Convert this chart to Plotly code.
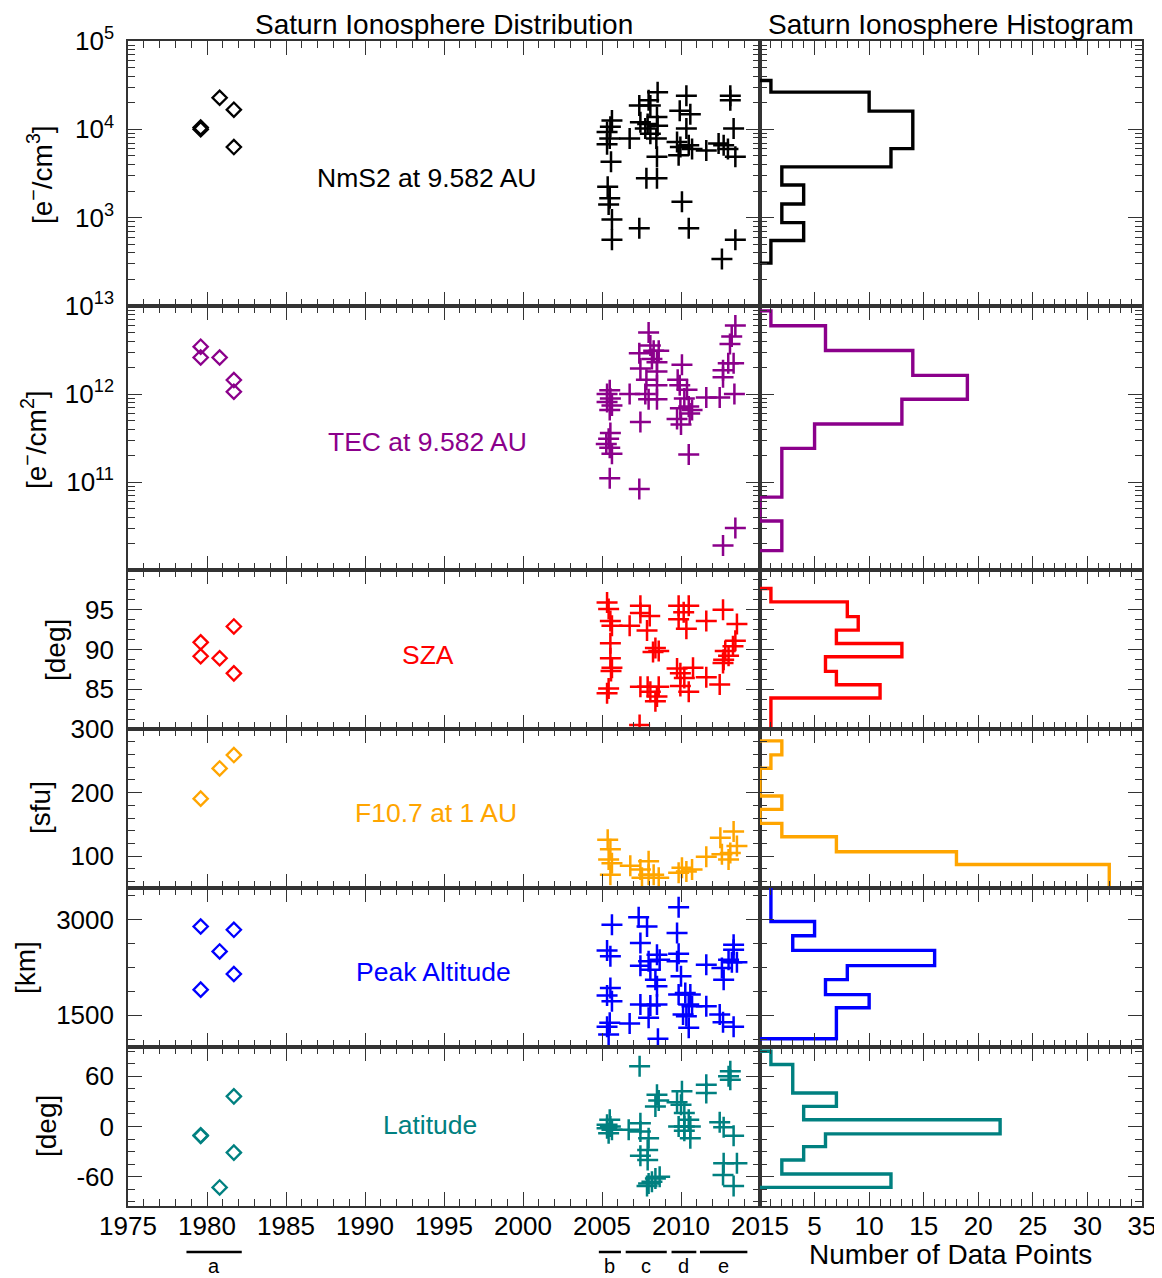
import plotly.graph_objects as go
from plotly.subplots import make_subplots

# ---------------- data ----------------
# Voyager / Pioneer era (diamonds)
early_nm_year = [1979.6, 1979.6, 1980.8, 1981.7, 1981.7]
early_nm_val = [1.05e4, 1.0e4, 2.28e4, 1.67e4, 6.3e3]
early_tec_year = [1979.6, 1979.6, 1980.8, 1981.7, 1981.7]
early_tec_val = [3.45e12, 2.6e12, 2.6e12, 1.44e12, 1.06e12]
early_sza_year = [1979.6, 1979.6, 1980.8, 1981.7, 1981.7]
early_sza_val = [90.9, 89.15, 88.9, 92.9, 87.0]
early_f107_year = [1979.6, 1980.8, 1981.7]
early_f107_val = [190.5, 238, 259]
early_alt_year = [1979.6, 1981.7, 1980.8, 1981.7, 1979.6]
early_alt_val = [2895, 2843, 2503, 2148, 1902]
early_lat_year = [1981.7, 1979.6, 1979.6, 1981.7, 1980.8]
early_lat_val = [36, -11.2, -10.5, -31.2, -72.8]

# Cassini era (crosses)
nm_year = [2005.63, 2005.53, 2005.32, 2005.49, 2005.32, 2005.57, 2005.36, 2005.49, 2005.42, 2005.63,
           2005.63, 2006.75, 2007.36, 2007.36, 2007.43, 2007.95, 2008.06, 2007.89, 2007.74, 2008.06,
           2008.52, 2008.48, 2008.52, 2008.44, 2008.48, 2007.81, 2008.48, 2010.34, 2009.92, 2010.59,
           2010.34, 2009.75, 2009.96, 2009.85, 2010.49, 2010.70, 2011.60, 2010.06, 2010.49, 2012.38,
           2012.70, 2013.12, 2013.12, 2013.33, 2012.97, 2013.44, 2012.59, 2013.44]
nm_val = [12600, 10700, 9300, 7900, 6800, 4300, 2240, 1660, 1410, 955,
          562, 7900, 18600, 760, 12000, 21400, 18600, 11500, 10200, 8900,
          26300, 13800, 11000, 7900, 4900, 2800, 2800, 24000, 16200, 14800,
          10200, 7200, 6300, 5100, 6600, 6000, 5750, 1510, 760, 6900,
          6600, 24000, 21400, 10200, 6000, 4900, 340, 562]

tec_year = [2005.49, 2005.32, 2005.53, 2005.32, 2005.63, 2005.49, 2005.53, 2005.42, 2005.27, 2005.49,
            2005.63, 2005.49, 2006.75, 2007.36, 2007.43, 2007.81, 2007.74, 2007.95, 2007.43, 2007.36,
            2007.95, 2008.06, 2008.27, 2008.16, 2008.59, 2008.48, 2008.48, 2008.48, 2008.48, 2010.06,
            2009.79, 2009.92, 2010.38, 2010.21, 2009.96, 2010.49, 2010.70, 2010.55, 2009.75, 2010.00,
            2010.49, 2011.60, 2012.45, 2012.66, 2012.66, 2013.33, 2012.99, 2013.10, 2013.21, 2013.44,
            2013.38, 2012.66, 2013.44]
tec_val = [1.10e12, 1.00e12, 8.9e11, 8.1e11, 7.4e11, 6.6e11, 3.6e11, 3.1e11, 2.7e11, 2.45e11,
           2.1e11, 1.1e11, 1.0e12, 2.9e12, 1.95e12, 1.45e12, 1.0e12, 8.7e11, 4.8e11, 8.3e10,
           5.0e12, 3.55e12, 3.1e12, 2.5e12, 3.1e12, 2.3e12, 1.8e12, 1.26e12, 8.7e11, 2.15e12,
           1.45e12, 1.26e12, 1.12e12, 8.9e11, 6.9e11, 7.2e11, 6.6e11, 6.0e11, 5.2e11, 4.5e11,
           2.05e11, 9.1e11, 9.1e11, 1.55e12, 1.86e12, 2.24e12, 2.24e12, 3.7e12, 4.5e12, 6.0e12,
           1.0e12, 1.9e10, 3.0e10]

sza_year = [2005.32, 2005.42, 2005.53, 2005.63, 2005.53, 2005.53, 2005.63, 2005.57, 2005.42, 2005.32,
            2006.75, 2007.43, 2007.43, 2008.02, 2007.85, 2008.38, 2008.23, 2008.59, 2007.43, 2007.89,
            2008.06, 2008.59, 2008.48, 2008.38, 2007.38, 2009.85, 2010.49, 2010.17, 2009.85, 2010.34,
            2009.75, 2009.96, 2010.76, 2010.21, 2009.96, 2010.49, 2011.60, 2011.60, 2012.66, 2012.45,
            2013.54, 2013.44, 2013.29, 2012.80, 2013.01, 2012.70, 2012.66]
sza_val = [95.9, 95.1, 93.6, 93.0, 90.8, 88.9, 87.7, 87.3, 85.1, 84.5,
           93.0, 95.5, 94.6, 94.2, 92.4, 90.2, 89.7, 89.8, 85.3, 85.3,
           84.7, 85.3, 84.1, 83.5, 80.5, 95.5, 95.5, 94.7, 93.8, 92.6,
           87.6, 87.0, 87.7, 86.4, 85.4, 84.7, 93.6, 86.5, 95.0, 85.6,
           93.2, 91.1, 90.4, 89.8, 89.2, 88.7, 88.3]

f107_year = [2005.36, 2005.53, 2005.42, 2005.63, 2005.53, 2006.79, 2007.43, 2007.95, 2007.53, 2007.95,
             2008.27, 2008.59, 2009.85, 2010.06, 2010.34, 2010.70, 2011.60, 2012.49, 2013.33, 2013.54,
             2012.59, 2013.12, 2013.01]
f107_val = [126, 111, 95, 89, 71, 85, 79, 92, 66, 71,
            71, 66, 74, 82, 76, 79, 99, 129, 139, 116,
            103, 105, 95]

alt_year = [2005.63, 2005.32, 2005.53, 2005.53, 2005.32, 2005.63, 2005.49, 2005.32, 2005.42, 2006.75,
            2007.32, 2007.85, 2007.43, 2007.43, 2007.95, 2008.06, 2008.48, 2008.65, 2008.38, 2008.48,
            2007.43, 2008.06, 2008.48, 2007.95, 2008.54, 2009.85, 2009.75, 2009.85, 2009.75, 2010.00,
            2009.85, 2010.27, 2010.59, 2010.49, 2010.70, 2010.13, 2010.34, 2010.49, 2011.60, 2011.60,
            2012.45, 2012.66, 2013.33, 2012.59, 2012.70, 2013.01, 2013.22, 2013.54, 2013.33, 2013.33]
alt_val = [2922, 2519, 2425, 1929, 1808, 1720, 1380, 1317, 1197, 1370,
           3042, 2895, 2634, 2279, 2347, 2216, 2451, 2373, 2059, 1955,
           1667, 1652, 1667, 1458, 1129, 3199, 2791, 2467, 2347, 2112,
           1824, 1850, 1824, 1667, 1641, 1511, 1484, 1302, 2294, 1641,
           1511, 1390, 1317, 2242, 2059, 2373, 2331, 2331, 2530, 2608]

lat_year = [2007.38, 2005.49, 2005.32, 2005.63, 2005.42, 2005.32, 2005.53, 2006.69, 2007.43, 2007.43,
            2007.95, 2007.89, 2007.43, 2007.89, 2007.95, 2008.16, 2008.38, 2008.65, 2007.85, 2008.48,
            2008.59, 2008.38, 2010.06, 2009.75, 2010.00, 2010.21, 2010.49, 2009.85, 2010.21, 2010.59,
            2010.21, 2010.59, 2011.60, 2011.60, 2012.45, 2012.70, 2013.33, 2013.12, 2013.01, 2013.12,
            2012.70, 2013.54, 2012.66, 2013.33]
lat_val = [72, 8, -2, -4, -8, 2, 0, -4, 4, -6,
           -14, -28, -35, -40, -68, -66, -62, -60, -71, 38,
           31, 24, 42, 29, 26, 16, 8, 0, 0, 0,
           -5, -14, 50, 40, 5, -1, -11, 66, 60, 56,
           -44, -44, -58, -71]

# Histograms (bin edges from top to bottom, counts per bin)
nm_hist_edges = [35650, 26360, 16070, 9770, 6053, 3758, 2339, 1426, 879, 551, 306]
nm_hist_counts = [1, 10, 14, 14, 12, 2, 4, 2, 4, 1]
tec_hist_edges = [8.8e12, 5.96e12, 3.12e12, 1.63e12, 8.71e11, 4.57e11, 2.41e11, 1.27e11, 6.73e10, 3.61e10, 1.66e10]
tec_hist_counts = [1, 6, 14, 19, 13, 5, 2, 2, 0, 2]
sza_hist_edges = [97.68, 95.99, 94.14, 92.44, 90.76, 89.08, 87.25, 85.57, 83.89, 78.8]
sza_hist_counts = [1, 8, 9, 7, 13, 6, 7, 11, 1]
f107_hist_edges = [281.4, 259.3, 238.3, 194.6, 173.7, 151.6, 130.6, 106.9, 86.9, 45]
f107_hist_counts = [2, 1, 0, 2, 0, 2, 7, 18, 32]
alt_hist_edges = [3700, 2973, 2749, 2519, 2279, 2060, 1824, 1616, 1130]
alt_hist_counts = [1, 5, 3, 16, 8, 6, 10, 7]
lat_hist_edges = [90, 74, 57, 40, 24, 8, -8.8, -24, -40, -56.8, -72.7]
lat_hist_counts = [1, 3, 3, 7, 4, 22, 6, 4, 2, 12]

# Spacecraft era bars under the time axis
era_labels = ["a", "b", "c", "d", "e"]
era_start = [1978.7, 2004.8, 2006.5, 2009.4, 2011.2]
era_end = [1982.2, 2006.2, 2009.1, 2010.97, 2014.2]

year_ticks = [1975, 1980, 1985, 1990, 1995, 2000, 2005, 2010, 2015]
count_ticks = [0, 5, 10, 15, 20, 25, 30, 35]

# ---------------- figure ----------------
FONT = "Liberation Sans, Arial, Helvetica, sans-serif"
FS_TICK = 26
FS_ANN = 26.5
FS_TITLE = 28
FS_YT = 28
AXC = "#333333"

OFF = 8  # page body margin
W, H = 1162 - OFF, 1278 - OFF
# plot area in page pixels
PX0, PX1, PY0, PY1 = 128, 1142, 41, 1206
ML, MT = PX0 - OFF, PY0 - OFF
MR, MB = (W + OFF) - PX1, (H + OFF) - PY1
PW, PH = PX1 - PX0, PY1 - PY0

fig = make_subplots(rows=6, cols=2, row_heights=[265, 264, 159, 159, 159, 159],
                    column_widths=[632, 382], horizontal_spacing=0, vertical_spacing=0)


def sup(e):
    return "10<sup>%d</sup>" % e


def log_minor(lo, hi):
    v = []
    for e in range(lo, hi):
        for m in range(2, 10):
            v.append(m * 10 ** e)
    return v


panels = [
    dict(name="NmS2 at 9.582 AU", color="black", ey=early_nm_year, ev=early_nm_val, cy=nm_year, cv=nm_val,
         he=nm_hist_edges, hc=nm_hist_counts, ytitle="[e<sup>\u2212</sup>/cm<sup>3</sup>]",
         yax=dict(type="log", range=[2, 5], tickvals=[1e2, 1e3, 1e4, 1e5],
                  ticktext=["", sup(3), sup(4), sup(5)],
                  minor=dict(tickvals=log_minor(2, 5))),
         ann=(426, 178), tpos=(40, 175)),
    dict(name="TEC at 9.582 AU", color="#8B008B", ey=early_tec_year, ev=early_tec_val, cy=tec_year, cv=tec_val,
         he=tec_hist_edges, hc=tec_hist_counts, ytitle="[e<sup>\u2212</sup>/cm<sup>2</sup>]",
         yax=dict(type="log", range=[10, 13], tickvals=[1e10, 1e11, 1e12, 1e13],
                  ticktext=["", sup(11), sup(12), sup(13)],
                  minor=dict(tickvals=log_minor(10, 13))),
         ann=(427, 442), tpos=(34, 440)),
    dict(name="SZA", color="#FF0000", ey=early_sza_year, ev=early_sza_val, cy=sza_year, cv=sza_val,
         he=sza_hist_edges, hc=sza_hist_counts, ytitle="[deg]",
         yax=dict(range=[80, 100], tickvals=[85, 90, 95], ticktext=["85", "90", "95"],
                  minor=dict(tick0=80, dtick=1.25)),
         ann=(428, 655), tpos=(55, 650)),
    dict(name="F10.7 at 1 AU", color="#FFA500", ey=early_f107_year, ev=early_f107_val, cy=f107_year, cv=f107_val,
         he=f107_hist_edges, hc=f107_hist_counts, ytitle="[sfu]",
         yax=dict(range=[50, 300], tickvals=[100, 200, 300], ticktext=["100", "200", "300"],
                  minor=dict(tick0=0, dtick=20)),
         ann=(436, 813), tpos=(40, 808)),
    dict(name="Peak Altitude", color="#0000FF", ey=early_alt_year, ev=early_alt_val, cy=alt_year, cv=alt_val,
         he=alt_hist_edges, hc=alt_hist_counts, ytitle="[km]",
         yax=dict(range=[1000, 3500], tickvals=[1500, 3000], ticktext=["1500", "3000"],
                  minor=dict(tick0=0, dtick=375)),
         ann=(433, 972), tpos=(25, 968)),
    dict(name="Latitude", color="#008080", ey=early_lat_year, ev=early_lat_val, cy=lat_year, cv=lat_val,
         he=lat_hist_edges, hc=lat_hist_counts, ytitle="[deg]",
         yax=dict(range=[-95, 95], tickvals=[-60, 0, 60], ticktext=["-60", "0", "60"],
                  minor=dict(tick0=0, dtick=15)),
         ann=(430, 1125), tpos=(46, 1126)),
]


def px2paper(x, y):
    return (x - PX0) / PW, (PY1 - y) / PH


annotations = []
for i, p in enumerate(panels):
    r = i + 1
    c = p["color"]
    fig.add_trace(go.Scatter(x=p["ey"], y=p["ev"], mode="markers", showlegend=False,
                             marker=dict(symbol="diamond-open", size=11, color=c, line=dict(width=2.3, color=c))),
                  row=r, col=1)
    fig.add_trace(go.Scatter(x=p["cy"], y=p["cv"], mode="markers", showlegend=False,
                             marker=dict(symbol="cross-thin", size=15, color=c, line=dict(width=2.5, color=c))),
                  row=r, col=1)
    # histogram outline (horizontal step)
    hx = [0] + list(p["hc"]) + [0]
    hy = list(p["he"]) + [p["he"][-1]]
    fig.add_trace(go.Scatter(x=hx, y=hy, mode="lines", line=dict(shape="hv", color=c, width=3.4),
                             showlegend=False), row=r, col=2)

    common_y = dict(showline=True, linecolor=AXC, linewidth=1.6, mirror="ticks", ticks="inside",
                    ticklen=14, tickwidth=1.4, tickcolor=AXC, showgrid=False, zeroline=False,
                    automargin=False, tickfont=dict(family=FONT, size=FS_TICK, color="black"))
    ya = dict(p["yax"])
    minor = dict(ya.pop("minor"))
    minor.update(ticks="inside", ticklen=7, tickwidth=1.2, tickcolor=AXC, showgrid=False)
    fig.update_yaxes(**common_y, **ya, minor=minor, showticklabels=True, ticklabelstandoff=7, row=r, col=1)
    fig.update_yaxes(**common_y, **ya, minor=minor, showticklabels=False, row=r, col=2)

    common_x = dict(showline=True, linecolor=AXC, linewidth=1.6, mirror="ticks", ticks="inside",
                    ticklen=14, tickwidth=1.4, tickcolor=AXC, showgrid=False, zeroline=False,
                    automargin=False, tickfont=dict(family=FONT, size=FS_TICK, color="black"),
                    showticklabels=(r == 6), ticklabelstandoff=-4)
    fig.update_xaxes(**common_x, range=[1975, 2015], tickvals=year_ticks,
                     ticktext=[str(t) for t in year_ticks],
                     minor=dict(ticks="inside", ticklen=7, tickwidth=1.2, tickcolor=AXC, tick0=1975, dtick=1),
                     row=r, col=1)
    fig.update_xaxes(**common_x, range=[0, 35], tickvals=count_ticks,
                     ticktext=[""] + [str(t) for t in count_ticks[1:]],
                     minor=dict(ticks="inside", ticklen=7, tickwidth=1.2, tickcolor=AXC, tick0=0, dtick=1),
                     row=r, col=2)

    ax, ay = px2paper(*p["ann"])
    annotations.append(dict(x=ax, y=ay, xref="paper", yref="paper", text=p["name"], showarrow=False,
                            font=dict(family=FONT, size=FS_ANN, color=c), xanchor="center", yanchor="middle"))
    tx, ty = px2paper(*p["tpos"])
    annotations.append(dict(x=tx, y=ty, xref="paper", yref="paper", text=p["ytitle"], showarrow=False,
                            textangle=-90, font=dict(family=FONT, size=FS_YT, color="black"),
                            xanchor="center", yanchor="middle"))

# titles
for txt, px in [("Saturn Ionosphere Distribution", 444), ("Saturn Ionosphere Histogram", 951)]:
    ax, ay = px2paper(px, 24)
    annotations.append(dict(x=ax, y=ay, xref="paper", yref="paper", text=txt, showarrow=False,
                            font=dict(family=FONT, size=FS_TITLE, color="black"),
                            xanchor="center", yanchor="middle"))
ax, ay = px2paper(950, 1254)
annotations.append(dict(x=ax, y=ay, xref="paper", yref="paper", text="Number of Data Points", showarrow=False,
                        font=dict(family=FONT, size=FS_TITLE, color="black"), xanchor="center", yanchor="middle"))

# era bars
_, ybar = px2paper(0, 1252)
_, ylab = px2paper(0, 1266)
shapes = []
for lab, s, e in zip(era_labels, era_start, era_end):
    shapes.append(dict(type="line", xref="x11", yref="paper", x0=s, x1=e, y0=ybar, y1=ybar,
                       line=dict(color="black", width=2.5)))
    annotations.append(dict(x=(s + e) / 2, y=ylab, xref="x11", yref="paper", text=lab, showarrow=False,
                            font=dict(family=FONT, size=20, color="black"), xanchor="center", yanchor="middle"))

fig.update_layout(width=W, height=H, margin=dict(l=ML, r=MR, t=MT, b=MB, pad=0, autoexpand=False),
                  paper_bgcolor="white", plot_bgcolor="white", showlegend=False,
                  annotations=annotations, shapes=shapes, font=dict(family=FONT, size=FS_TICK, color="black"))

fig.write_html("out.html")
